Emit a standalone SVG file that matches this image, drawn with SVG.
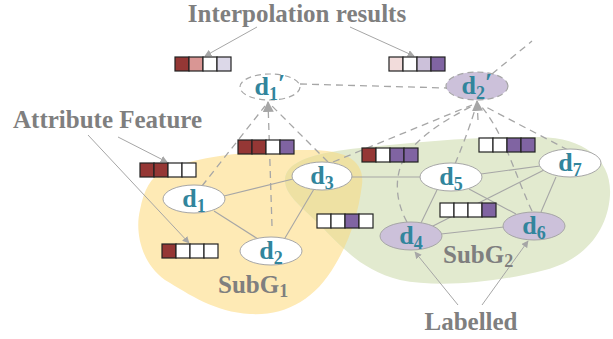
<svg xmlns="http://www.w3.org/2000/svg" width="613" height="339" viewBox="0 0 613 339">
<style>
.lbl{font-family:"Liberation Serif",serif;font-weight:bold;font-size:25px;fill:#7f7f7f}
.nt{font-family:"Liberation Serif",serif;font-weight:bold;font-size:26px;fill:#31859c}
.sub{font-size:18px}
.node{fill:#fff;stroke:#a6a6a6;stroke-width:1}
.lav{fill:#ccc1da;stroke:#a6a6a6;stroke-width:1}
.ghost{fill:#fff;stroke:#a6a6a6;stroke-width:1.2;stroke-dasharray:6 4}
.e{stroke:#a6a6a6;stroke-width:1.1;fill:none}
.d{stroke:#a6a6a6;stroke-width:1.3;fill:none;stroke-dasharray:7 5}
.pt{stroke:#a6a6a6;stroke-width:1;fill:none}
.bx rect{stroke:#222;stroke-width:1.2;width:14px;height:14px}
.r{fill:#953735}.p{fill:#8064a2}.w{fill:#fff}
</style>
<defs>
<marker id="ah" viewBox="0 0 10 10" refX="9" refY="5" markerWidth="7" markerHeight="7" markerUnits="userSpaceOnUse" orient="auto">
<path d="M0,0 L10,5 L0,10 Z" fill="#a6a6a6"/>
</marker>
<marker id="ah2" viewBox="0 0 10 10" refX="9" refY="5" markerWidth="11" markerHeight="11" markerUnits="userSpaceOnUse" orient="auto">
<path d="M0,0 L10,5 L0,10 Z" fill="#a6a6a6"/>
</marker>
<clipPath id="yclip"><path d="M165,170 C200,155 260,150 310,150 C345,150 365,160 362,185 C358,215 350,240 335,265 C315,300 285,316 250,314 C215,312 190,295 165,280 C140,262 135,230 140,210 C144,190 150,177 165,170 Z"/></clipPath>
</defs>

<g id="subg1">
<path d="M165,170 C200,155 260,150 310,150 C345,150 365,160 362,185 C358,215 350,240 335,265 C315,300 285,316 250,314 C215,312 190,295 165,280 C140,262 135,230 140,210 C144,190 150,177 165,170 Z" fill="#feeab5"/>
</g>
<g id="subg2">
<path d="M285,180 C285,160 320,152 360,148 C420,142 480,136 540,137 C585,138 612,160 610,195 C608,230 585,260 545,270 C500,282 440,288 400,280 C360,270 340,245 320,225 C300,205 285,195 285,180 Z" fill="#e2eacf"/>
<path clip-path="url(#yclip)" d="M285,180 C285,160 320,152 360,148 C420,142 480,136 540,137 C585,138 612,160 610,195 C608,230 585,260 545,270 C500,282 440,288 400,280 C360,270 340,245 320,225 C300,205 285,195 285,180 Z" fill="#eee1a3"/>
</g>

<g id="connectors">
<line class="e" x1="224" y1="196" x2="293" y2="179"/>
<line class="e" x1="214" y1="211" x2="258" y2="239"/>
<line class="e" x1="285" y1="238" x2="314" y2="189"/>
<line class="e" x1="352" y1="177" x2="420" y2="177"/>
<line class="e" x1="481" y1="174" x2="540" y2="166"/>
<line class="e" x1="437" y1="190" x2="421" y2="223"/>
<line class="e" x1="469" y1="189" x2="516" y2="214"/>
<line class="e" x1="441" y1="234" x2="504" y2="227"/>
<line class="e" x1="556" y1="177" x2="541" y2="212"/>
<line class="e" x1="546" y1="169" x2="429" y2="228"/>
<line class="d" x1="300" y1="84" x2="447" y2="88"/>
<line class="d" x1="202" y1="186" x2="265" y2="106"/>
<line class="d" x1="272" y1="226" x2="268" y2="102" marker-end="url(#ah2)"/>
<line class="d" x1="328" y1="162" x2="272" y2="106"/>
<line class="d" x1="333" y1="162" x2="472" y2="105"/>
<path class="d" d="M407,222 C392,195 395,165 412,148 C430,128 455,115 474,105"/>
<path class="d" d="M455,164 C465,140 472,120 476,106"/>
<path class="d" d="M532,211 C515,175 505,135 481,106"/>
<line class="d" x1="568" y1="150" x2="484" y2="106"/>
<line class="d" x1="478" y1="120" x2="477" y2="101" marker-end="url(#ah2)"/>
<line class="d" x1="492" y1="74" x2="532" y2="41"/>
<line class="pt" x1="257" y1="27" x2="205" y2="56" marker-end="url(#ah)"/>
<line class="pt" x1="350" y1="27" x2="414" y2="56" marker-end="url(#ah)"/>
<line class="pt" x1="118" y1="137" x2="167" y2="162" marker-end="url(#ah)"/>
<line class="pt" x1="88" y1="135" x2="189" y2="243" marker-end="url(#ah)"/>
<line class="pt" x1="458" y1="305" x2="415" y2="252" marker-end="url(#ah)"/>
<line class="pt" x1="482" y1="305" x2="528" y2="241" marker-end="url(#ah)"/>
</g>

<g id="feat-interp1" class="bx"><rect x="175" y="57" class="r"/><rect x="189" y="57" fill="#d99694"/><rect x="203" y="57" class="w"/><rect x="217" y="57" fill="#dcd8e8"/></g>
<g id="feat-interp2" class="bx"><rect x="389" y="57" fill="#f2dcdb"/><rect x="403" y="57" class="w"/><rect x="417" y="57" fill="#ccc1da"/><rect x="431" y="57" class="p"/></g>
<g id="feat-d1" class="bx"><rect x="140" y="163" class="r"/><rect x="154" y="163" class="r"/><rect x="168" y="163" class="w"/><rect x="182" y="163" class="w"/></g>
<g id="feat-d2" class="bx"><rect x="162" y="244" class="r"/><rect x="176" y="244" class="w"/><rect x="190" y="244" class="w"/><rect x="204" y="244" class="w"/></g>
<g id="feat-a" class="bx"><rect x="238" y="140" class="r"/><rect x="252" y="140" class="r"/><rect x="266" y="140" class="w"/><rect x="280" y="140" class="p"/></g>
<g id="feat-b" class="bx"><rect x="362" y="148" class="r"/><rect x="376" y="148" class="w"/><rect x="390" y="148" class="p"/><rect x="404" y="148" class="p"/></g>
<g id="feat-c" class="bx"><rect x="479" y="138" class="w"/><rect x="493" y="138" class="w"/><rect x="507" y="138" class="p"/><rect x="521" y="138" class="p"/></g>
<g id="feat-d" class="bx"><rect x="440" y="203" class="w"/><rect x="454" y="203" class="w"/><rect x="468" y="203" class="w"/><rect x="482" y="203" class="p"/></g>
<g id="feat-e" class="bx"><rect x="317" y="214" class="w"/><rect x="331" y="214" class="w"/><rect x="345" y="214" class="p"/><rect x="359" y="214" class="w"/></g>

<g id="n-d1p"><ellipse class="ghost" cx="270" cy="87" rx="30" ry="13"/><text class="nt" x="270" y="95" text-anchor="middle">d<tspan class="sub" dy="5">1</tspan><tspan dy="-8">′</tspan></text></g>
<g id="n-d2p"><ellipse class="ghost" style="fill:#ccc1da" cx="477" cy="86" rx="31" ry="14"/><text class="nt" x="477" y="94" text-anchor="middle">d<tspan class="sub" dy="5">2</tspan><tspan dy="-8">′</tspan></text></g>
<g id="n-d1"><ellipse class="node" cx="194" cy="199" rx="31" ry="14"/><text class="nt" x="194" y="207" text-anchor="middle">d<tspan class="sub" dy="5">1</tspan></text></g>
<g id="n-d2"><ellipse class="node" cx="271" cy="251" rx="31" ry="14"/><text class="nt" x="271" y="259" text-anchor="middle">d<tspan class="sub" dy="5">2</tspan></text></g>
<g id="n-d3"><ellipse class="node" cx="322" cy="176" rx="30" ry="14"/><text class="nt" x="322" y="184" text-anchor="middle">d<tspan class="sub" dy="5">3</tspan></text></g>
<g id="n-d4"><ellipse class="lav" cx="411" cy="236" rx="31" ry="14"/><text class="nt" x="411" y="244" text-anchor="middle">d<tspan class="sub" dy="5">4</tspan></text></g>
<g id="n-d5"><ellipse class="node" cx="451" cy="177" rx="31" ry="14"/><text class="nt" x="451" y="185" text-anchor="middle">d<tspan class="sub" dy="5">5</tspan></text></g>
<g id="n-d6"><ellipse class="lav" cx="534" cy="226" rx="31" ry="14"/><text class="nt" x="534" y="234" text-anchor="middle">d<tspan class="sub" dy="5">6</tspan></text></g>
<g id="n-d7"><ellipse class="node" cx="570" cy="163" rx="31" ry="14"/><text class="nt" x="570" y="171" text-anchor="middle">d<tspan class="sub" dy="5">7</tspan></text></g>

<g id="labels">
<text class="lbl" x="297" y="22" text-anchor="middle">Interpolation results</text>
<text class="lbl" x="13" y="128">Attribute Feature</text>
<text class="lbl" x="218" y="293">SubG<tspan font-size="18" dy="4">1</tspan></text>
<text class="lbl" x="443" y="263">SubG<tspan font-size="18" dy="4">2</tspan></text>
<text class="lbl" x="471" y="330" text-anchor="middle">Labelled</text>
</g>
</svg>
